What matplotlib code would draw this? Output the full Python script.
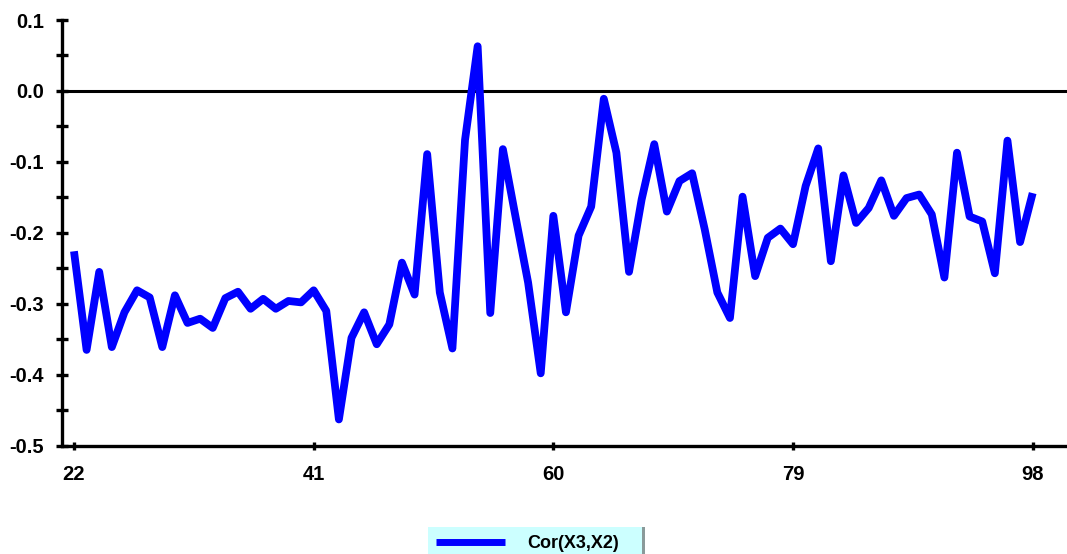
import matplotlib
matplotlib.use("Agg")
import matplotlib.pyplot as plt
from matplotlib.patches import Rectangle
from matplotlib.lines import Line2D
import numpy as np

lags = list(range(22, 99))
cor_x3_x2 = [
    -0.226, -0.365, -0.255, -0.361, -0.312, -0.281, -0.291, -0.361, -0.288, -0.327,
    -0.321, -0.334, -0.292, -0.283, -0.307, -0.293, -0.307, -0.296, -0.298, -0.281,
    -0.310, -0.463, -0.348, -0.312, -0.357, -0.329, -0.242, -0.287, -0.089, -0.284,
    -0.363, -0.069, 0.063, -0.313, -0.082, -0.177, -0.270, -0.398, -0.176, -0.312,
    -0.204, -0.163, -0.011, -0.087, -0.255, -0.153, -0.075, -0.170, -0.127, -0.116,
    -0.195, -0.284, -0.320, -0.149, -0.261, -0.207, -0.194, -0.216, -0.134, -0.081,
    -0.240, -0.119, -0.186, -0.165, -0.126, -0.176, -0.151, -0.146, -0.174, -0.263,
    -0.087, -0.177, -0.184, -0.257, -0.070, -0.213, -0.144,
]
series_name = "Cor(X3,X2)"
x_ticks = [22, 41, 60, 79, 98]
y_ticks = [0.1, 0.0, -0.1, -0.2, -0.3, -0.4, -0.5]
y_tick_labels = ["0.1", "0.0", "-0.1", "-0.2", "-0.3", "-0.4", "-0.5"]

plt.rcParams['font.family'] = ['Liberation Sans', 'DejaVu Sans']

W, H = 1067, 554
fig = plt.figure(figsize=(W / 100, H / 100), dpi=100)
left_px, right_px, top_px, bottom_px = 62, 1067, 20, 445.7
ax = fig.add_axes([left_px / W, 1 - bottom_px / H, (right_px - left_px) / W, (bottom_px - top_px) / H])

ax.plot(lags, cor_x3_x2, color='#0000ff', lw=5.6, solid_joinstyle='round', solid_capstyle='butt', zorder=3)
ax.axhline(0.0, color='black', lw=2.2, zorder=2)

ax.set_xlim(21.05, 100.72)
ax.set_ylim(-0.5, 0.1)

for s in ['top', 'right']:
    ax.spines[s].set_visible(False)
for s in ['left', 'bottom']:
    ax.spines[s].set_linewidth(2.4)
    ax.spines[s].set_capstyle('projecting')

ax.set_yticks(y_ticks)
ax.set_yticklabels(y_tick_labels, fontsize=14.5, fontweight='bold')
ax.set_yticks(np.arange(-0.45, 0.1, 0.1), minor=True)
ax.set_xticks(x_ticks)
ax.set_xticklabels([str(t) for t in x_ticks], fontsize=14.5, fontweight='bold')

ax.tick_params(axis='y', which='both', direction='inout', length=8, width=2.4, pad=9)
ax.tick_params(axis='x', which='major', direction='inout', length=6, width=2.4, pad=11)

# legend box
lx0, ly0, lx1, ly1 = 428, 526.7, 642, 556
fig.patches.append(Rectangle((lx1 / W, 1 - ly1 / H), 3 / W, (ly1 - ly0) / H,
                             transform=fig.transFigure, facecolor='#8a9a9a', edgecolor='none'))
fig.patches.append(Rectangle((lx0 / W, 1 - ly1 / H), (lx1 - lx0) / W, (ly1 - ly0) / H,
                             transform=fig.transFigure, facecolor='#ccffff', edgecolor='none'))
fig.lines.append(Line2D([436 / W, 505 / W], [1 - 541.5 / H, 1 - 541.5 / H], transform=fig.transFigure,
                        color='#0000ff', lw=5.0, solid_capstyle='butt'))
fig.text(527 / W, 1 - 544 / H, series_name, fontsize=13, fontweight='bold', va='center', ha='left')

fig.savefig('out.png', dpi=100)
